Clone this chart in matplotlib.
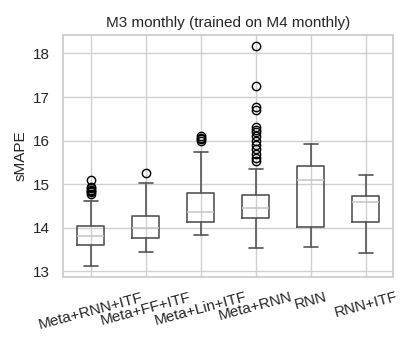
import matplotlib
matplotlib.use("Agg")
import matplotlib.pyplot as plt
import seaborn as sns

# model names on the x axis
models = ["Meta+RNN+ITF", "Meta+FF+ITF", "Meta+Lin+ITF", "Meta+RNN", "RNN", "RNN+ITF"]

# box statistics (sMAPE)
whislo = [13.12, 13.45, 13.84, 13.54, 13.56, 13.42]
q1 = [13.60, 13.76, 14.13, 14.23, 14.01, 14.12]
med = [13.80, 13.99, 14.36, 14.46, 15.09, 14.58]
q3 = [14.04, 14.27, 14.80, 14.75, 15.41, 14.73]
whishi = [14.62, 15.03, 15.74, 15.34, 15.92, 15.20]
fliers = [
    [15.09, 14.93, 14.90, 14.87, 14.84, 14.81, 14.78],
    [15.25],
    [16.10, 16.07, 16.03, 16.00],
    [18.17, 17.25, 16.76, 16.70, 16.32, 16.25, 16.20, 16.10, 16.00,
     15.90, 15.80, 15.70, 15.60, 15.52],
    [],
    [],
]

sns.set_theme(style="whitegrid")
plt.rcParams['font.family'] = ['Liberation Sans', 'DejaVu Sans']

stats = []
for i, name in enumerate(models):
    stats.append(dict(label=name, whislo=whislo[i], q1=q1[i], med=med[i],
                      q3=q3[i], whishi=whishi[i], fliers=fliers[i]))

fig = plt.figure(figsize=(4.13, 3.44), dpi=100)
ax = fig.add_axes([0.153, 0.195, 0.799, 0.703])

boxcol = '#555555'
ax.bxp(stats, widths=0.5,
       boxprops=dict(color=boxcol, linewidth=1.2),
       whiskerprops=dict(color=boxcol, linewidth=1.2),
       capprops=dict(color=boxcol, linewidth=1.2),
       medianprops=dict(color='#c8c8c8', linewidth=1.2),
       flierprops=dict(marker='o', markerfacecolor='none',
                       markeredgecolor='black', markersize=6))

ax.set_xticks(range(1, len(models) + 1))
ax.set_xticklabels(models, rotation=15, fontsize=11)
ax.tick_params(axis='y', labelsize=11)
ax.set_xlim(0.5, len(models) + 0.5)
ax.grid(True, axis='both', color='#d0d0d0')
ax.set_ylabel("sMAPE", fontsize=11)
ax.set_title("M3 monthly (trained on M4 monthly)", fontsize=11)

fig.savefig("out.png", dpi=100)
